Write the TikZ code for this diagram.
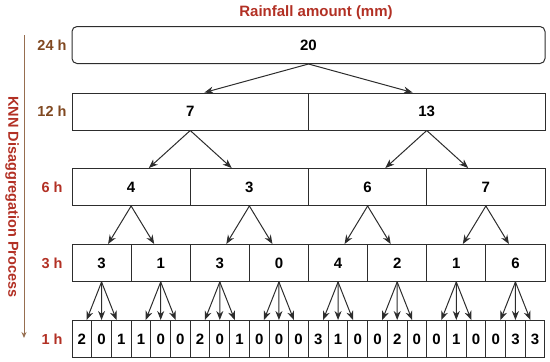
\documentclass[tikz,border=0pt]{standalone}
\usepackage{fontspec}
\setmainfont{Liberation Sans}
\usetikzlibrary{arrows.meta,positioning,calc}
\definecolor{linegray}{RGB}{45,45,45}
\definecolor{lblbrown}{RGB}{128,72,32}
\definecolor{lblred}{RGB}{178,48,36}
\definecolor{axisbrown}{RGB}{150,110,80}

\begin{document}
\begin{tikzpicture}[
  x=1pt, y=-1pt,
  font=\bfseries\fontsize{15}{17}\selectfont,
  cell/.style={draw=linegray, line width=1pt, minimum height=37pt, inner sep=0pt},
  lbl/.style={font=\bfseries\fontsize{14.5}{16}\selectfont, text=lblbrown},
  arrow/.style={-{Stealth[length=9pt,width=7pt]}, draw=linegray, line width=1pt}
]
\useasboundingbox (0,0) rectangle (550,362);

\node[lbl, text=lblred, font=\bfseries\fontsize{15}{17}\selectfont] (title) at (316,13) {Rainfall amount (mm)};

\node[cell, rounded corners=5pt, minimum width=473pt] (h24) at (308.5,45) {20};
\foreach \v [count=\i from 0] in {7,13}
  \node[cell, minimum width=236.5pt] (h12-\i) at ({72+236.5*(\i+0.5)},111.5) {\v};
\foreach \v [count=\i from 0] in {4,3,6,7}
  \node[cell, minimum width=118.25pt] (h6-\i) at ({72+118.25*(\i+0.5)},187) {\v};
\foreach \v [count=\i from 0] in {3,1,3,0,4,2,1,6}
  \node[cell, minimum width=59.125pt] (h3-\i) at ({72+59.125*(\i+0.5)},263) {\v};
\foreach \v [count=\i from 0] in {2,0,1,1,0,0,2,0,1,0,0,0,3,1,0,0,2,0,0,1,0,0,3,3}
  \node[cell, minimum width=19.708pt] (h1-\i) at ({72+19.708*(\i+0.5)},339) {\v};

\foreach \i in {0,1}
  \draw[arrow] (h24.south) -- ($(h12-\i.north)!0.12!(h24.south |- h12-\i.north)$);
\foreach \p in {0,1}
  \foreach \k in {0,1} {
    \pgfmathtruncatemacro\c{2*\p+\k}
    \draw[arrow] (h12-\p.south) -- ($(h6-\c.north)!0.3!(h12-\p.south |- h6-\c.north)$);
  }
\foreach \p in {0,...,3}
  \foreach \k in {0,1} {
    \pgfmathtruncatemacro\c{2*\p+\k}
    \draw[arrow] (h6-\p.south) -- ($(h3-\c.north)!0.22!(h6-\p.south |- h3-\c.north)$);
  }
\foreach \p in {0,...,7}
  \foreach \k in {0,1,2} {
    \pgfmathtruncatemacro\c{3*\p+\k}
    \draw[arrow] (h3-\p.south) -- ($(h1-\c.north)!0.24!(h3-\p.south |- h1-\c.north)$);
  }

\foreach \n/\y/\c in {24/45/lblbrown,12/111.5/lblbrown,6/187/lblred,3/263/lblred,1/339/lblred}
  \node[lbl, text=\c] (l\n) at (52,\y) {\n\ h};

\coordinate (axtop) at (24,35);
\coordinate (axbot) at (24,338);
\draw[axisbrown, line width=1pt, -{Stealth[length=6pt,width=5pt]}] (axtop) -- (axbot);
\node[lbl, text=lblred, rotate=-90] (proc) at (12,197) {KNN Disaggregation Process};

\end{tikzpicture}
\end{document}
